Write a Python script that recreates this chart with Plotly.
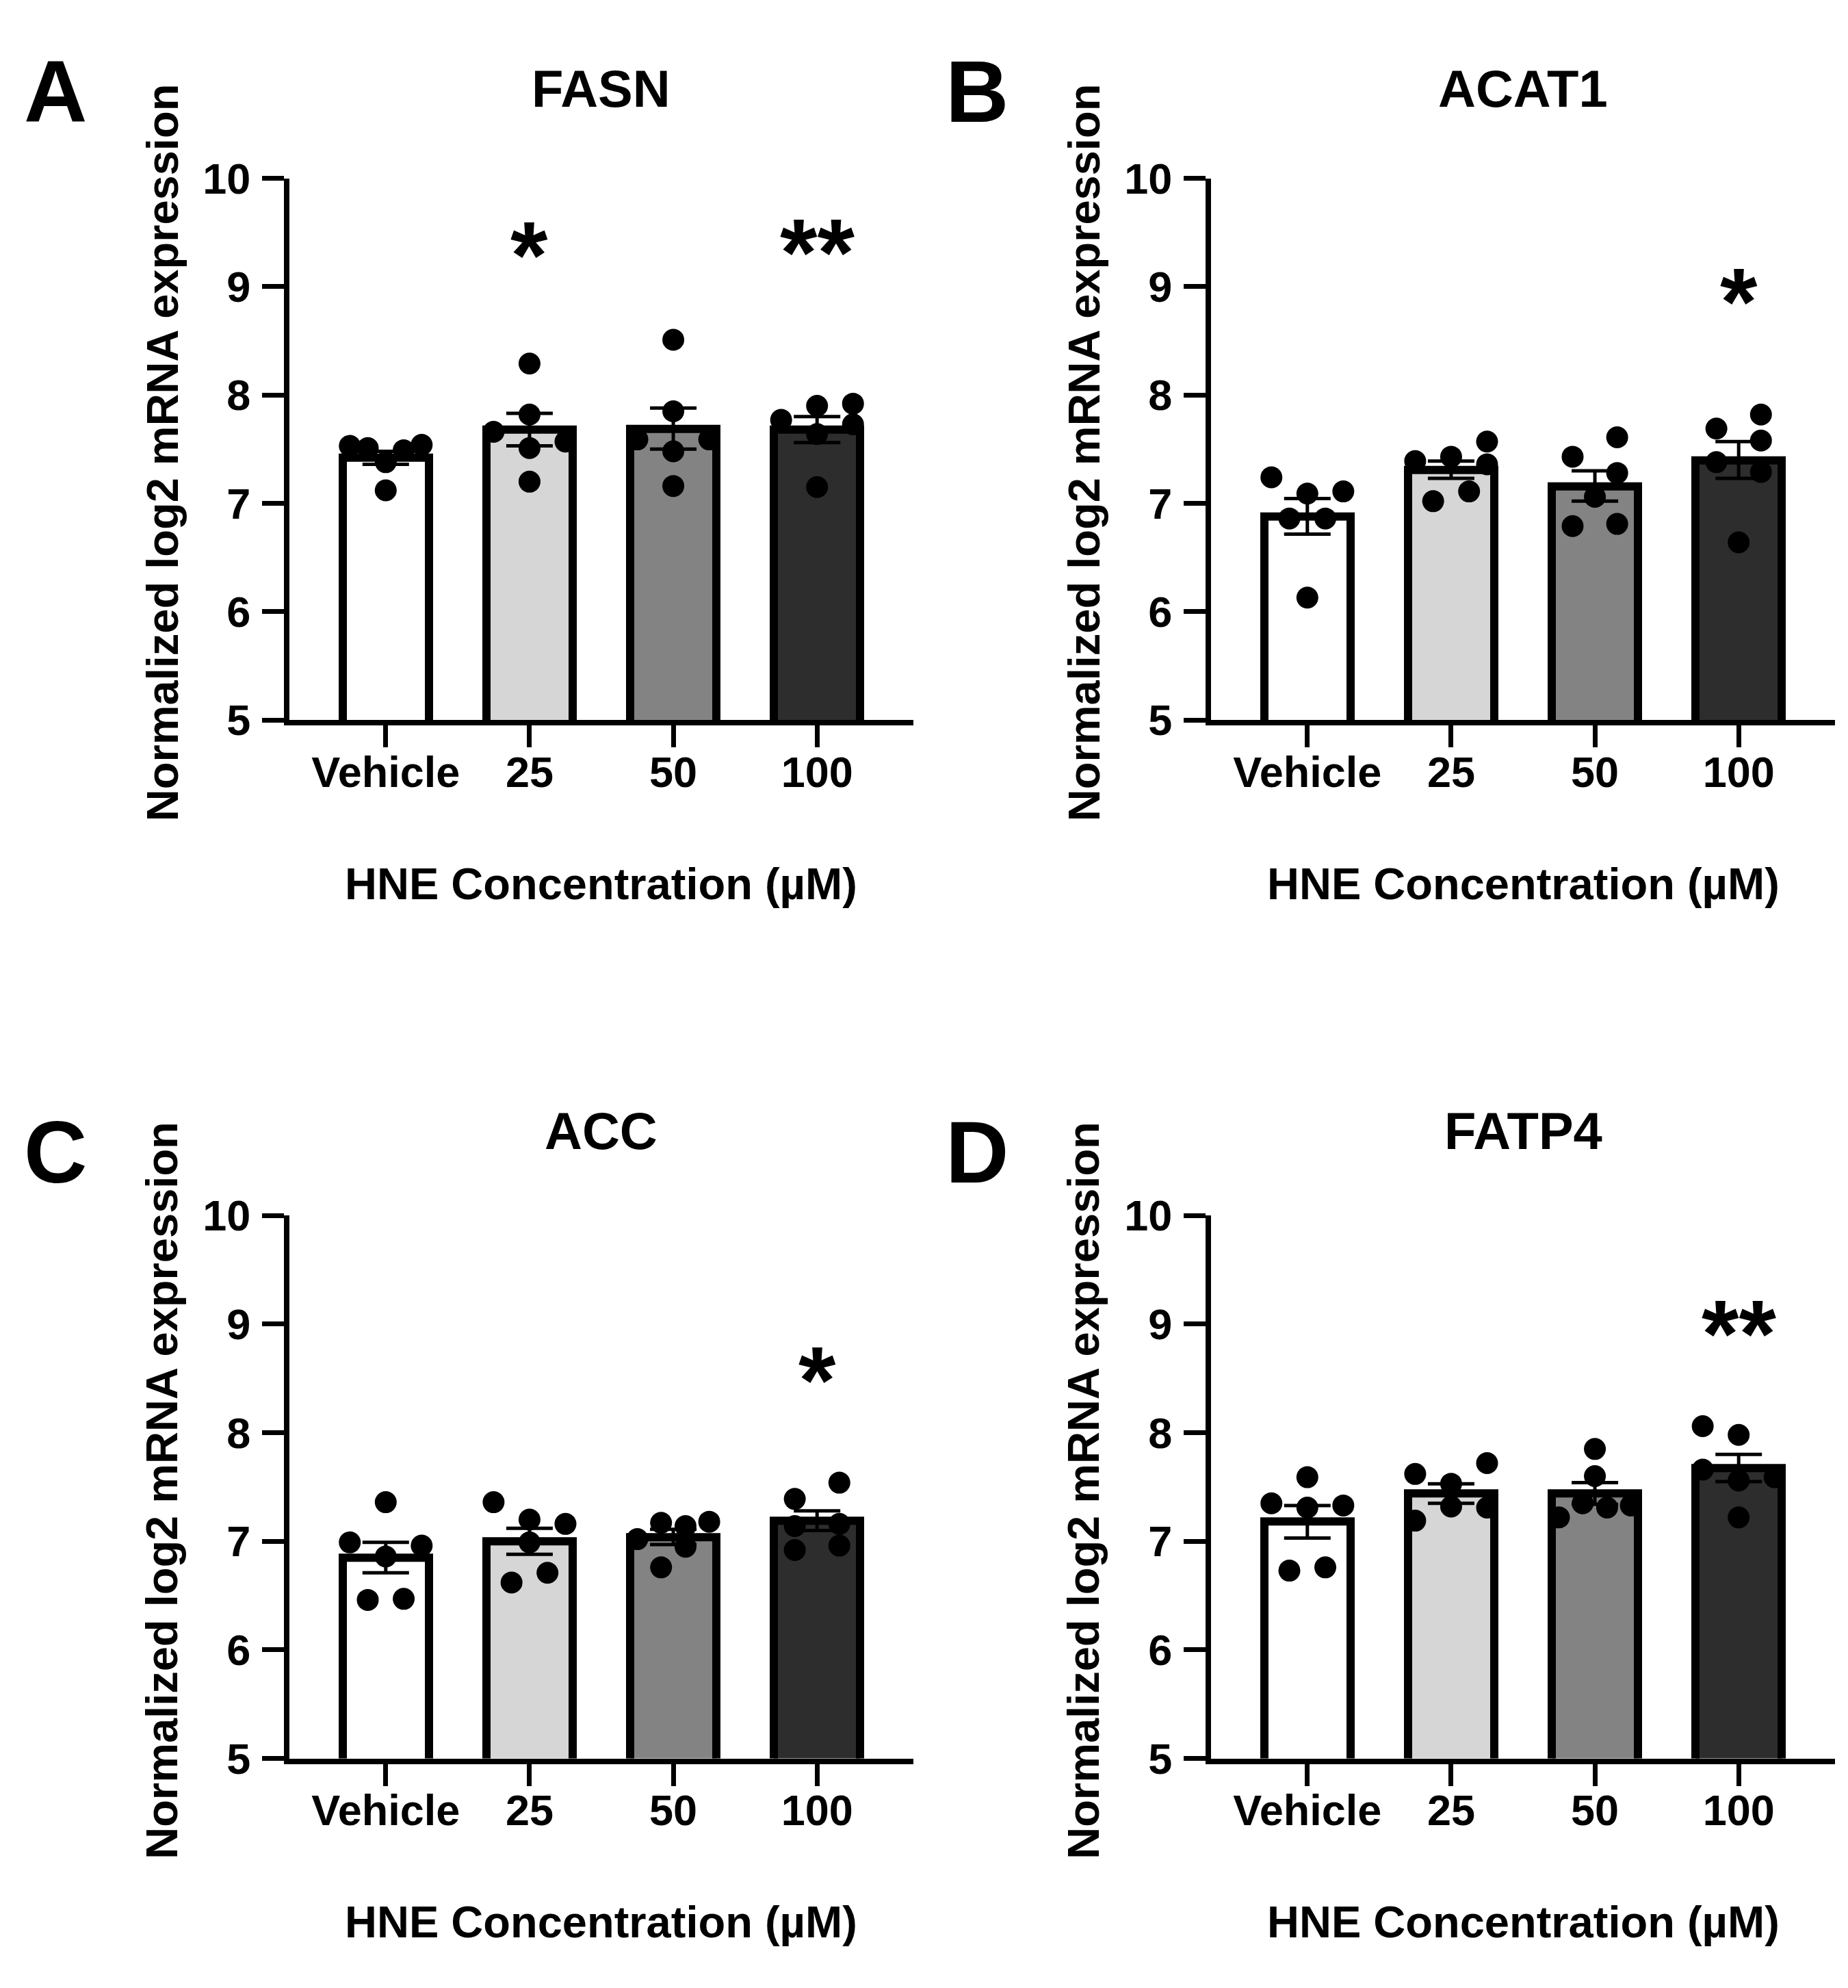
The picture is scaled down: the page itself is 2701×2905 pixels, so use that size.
import plotly.graph_objects as go

# HNE treatment groups
categories = ["Vehicle", "25", "50", "100"]
bar_fills = ["#ffffff", "#d6d6d6", "#838383", "#2d2d2d"]

# panel A - FASN
fasn_mean = [7.42, 7.68, 7.69, 7.68]
fasn_sem = [0.06, 0.15, 0.19, 0.12]
fasn_pts = [[7.53, 7.51, 7.38, 7.49, 7.54, 7.12],
            [8.29, 7.82, 7.66, 7.57, 7.51, 7.20],
            [8.51, 7.85, 7.59, 7.59, 7.48, 7.16],
            [7.77, 7.90, 7.92, 7.73, 7.64, 7.15]]
fasn_jit = [[-0.25, -0.125, 0, 0.125, 0.25, 0],
            [0, 0, -0.25, 0.25, 0, 0],
            [0, 0, -0.25, 0.25, 0, 0],
            [-0.25, 0, 0.25, 0.25, 0, 0]]
fasn_stars = ["", "*", "", "**"]
fasn_star_y = [0, 9.41, 0, 9.43]

# panel B - ACAT1
acat1_mean = [6.88, 7.31, 7.16, 7.40]
acat1_sem = [0.165, 0.08, 0.14, 0.17]
acat1_pts = [[7.24, 7.09, 7.11, 6.86, 6.86, 6.13],
             [7.39, 7.43, 7.57, 7.36, 7.02, 7.11],
             [7.43, 7.61, 7.28, 7.06, 6.79, 6.81],
             [7.69, 7.82, 7.58, 7.38, 7.29, 6.64]]
acat1_jit = [[-0.25, 0, 0.25, -0.125, 0.125, 0],
             [-0.25, 0, 0.25, 0.25, -0.125, 0.125],
             [-0.155, 0.155, 0.155, 0, -0.155, 0.155],
             [-0.155, 0.155, 0.155, -0.155, 0.155, 0]]
acat1_stars = ["", "", "", "*"]
acat1_star_y = [0, 0, 0, 8.98]

# panel C - ACC
acc_mean = [6.85, 7.00, 7.04, 7.19]
acc_sem = [0.14, 0.12, 0.07, 0.09]
acc_pts = [[7.36, 6.99, 6.96, 6.86, 6.46, 6.47],
           [7.36, 7.20, 7.16, 6.99, 6.62, 6.71],
           [7.02, 7.17, 7.14, 7.18, 6.95, 6.76],
           [7.54, 7.39, 7.14, 7.16, 6.92, 6.96]]
acc_jit = [[0, -0.25, 0.25, 0, -0.125, 0.125],
           [-0.25, 0, 0.25, 0, -0.125, 0.125],
           [-0.25, -0.085, 0.085, 0.25, 0.085, -0.085],
           [0.155, -0.155, -0.155, 0.155, -0.155, 0.155]]
acc_stars = ["", "", "", "*"]
acc_star_y = [0, 0, 0, 8.60]

# panel D - FATP4
fatp4_mean = [7.18, 7.44, 7.44, 7.675]
fatp4_sem = [0.15, 0.09, 0.10, 0.125]
fatp4_pts = [[7.59, 7.35, 7.31, 7.33, 6.73, 6.76],
             [7.62, 7.72, 7.53, 7.19, 7.32, 7.31],
             [7.85, 7.60, 7.22, 7.35, 7.31, 7.33],
             [8.06, 7.98, 7.66, 7.59, 7.56, 7.22]]
fatp4_jit = [[0, -0.25, 0, 0.25, -0.125, 0.125],
             [-0.25, 0.25, 0, -0.25, 0, 0.25],
             [0, 0, -0.25, -0.085, 0.085, 0.25],
             [-0.25, 0, -0.25, 0.25, 0, 0]]
fatp4_stars = ["", "", "", "**"]
fatp4_star_y = [0, 0, 0, 9.03]

y_ticks = [5, 6, 7, 8, 9, 10]

W, H = 2701, 2905
FONT = "Liberation Sans, Arial, sans-serif"

panels = [
    ("A", "FASN", fasn_mean, fasn_sem, fasn_pts, fasn_jit, fasn_stars, fasn_star_y),
    ("B", "ACAT1", acat1_mean, acat1_sem, acat1_pts, acat1_jit, acat1_stars, acat1_star_y),
    ("C", "ACC", acc_mean, acc_sem, acc_pts, acc_jit, acc_stars, acc_star_y),
    ("D", "FATP4", fatp4_mean, fatp4_sem, fatp4_pts, fatp4_jit, fatp4_stars, fatp4_star_y),
]

# plot area boxes in pixels (left, right, top, bottom)
boxes = [(415, 1327, 223, 1034), (1762, 2674, 223, 1034),
         (415, 1327, 1776, 2589), (1762, 2674, 1776, 2589)]
# header rows: (letter y, title y) in pixels
heads = [(93, 89), (93, 89), (1681, 1649), (1681, 1649)]


def px(x):
    return x / W


def py(y):
    return 1 - y / H


fig = go.Figure()
annotations = []

for k, (letter, gene, mean, sem, pts, jit, stars, star_y) in enumerate(panels):
    xa = "x" if k == 0 else f"x{k+1}"
    ya = "y" if k == 0 else f"y{k+1}"
    l, r, t, b = boxes[k]
    xs = list(range(len(categories)))

    fig.add_trace(go.Bar(
        x=xs, y=mean, width=0.6, xaxis=xa, yaxis=ya,
        marker=dict(color=bar_fills, line=dict(color="black", width=12)),
        error_y=dict(type="data", array=sem, color="black", thickness=5, width=34),
        showlegend=False, hoverinfo="skip"))

    dx, dy = [], []
    for i, grp in enumerate(pts):
        for v, j in zip(grp, jit[i]):
            dx.append(i + j)
            dy.append(v)
    fig.add_trace(go.Scatter(
        x=dx, y=dy, mode="markers", xaxis=xa, yaxis=ya,
        marker=dict(color="black", size=32, line=dict(width=0)),
        showlegend=False, cliponaxis=False))

    axn = "" if k == 0 else str(k + 1)
    fig.update_layout(**{
        f"xaxis{axn}": dict(
            domain=[px(l), px(r)], anchor=ya, range=[-0.67, 3.67],
            tickvals=xs, ticktext=categories, showgrid=False, zeroline=False,
            showline=True, linecolor="black", linewidth=8,
            ticks="outside", ticklen=32, tickwidth=7, tickcolor="black",
            ticklabelstandoff=-18,
            tickfont=dict(family=FONT, size=63, color="black", weight="bold")),
        f"yaxis{axn}": dict(
            domain=[py(b), py(t)], anchor=xa, range=[5, 10],
            tickvals=y_ticks, showgrid=False, zeroline=False,
            showline=True, linecolor="black", linewidth=8,
            ticks="outside", ticklen=32, tickwidth=7, tickcolor="black",
            ticklabelstandoff=4,
            tickfont=dict(family=FONT, size=63, color="black", weight="bold")),
    })

    cx = px((l + r) / 2)
    ly, ty = heads[k]
    base = dict(xref="paper", yref="paper", showarrow=False, xanchor="center", yanchor="middle")
    # panel letter
    annotations.append(dict(base, text=letter, x=px(l - 342), y=py(ly),
                            font=dict(family=FONT, size=128, color="black", weight="bold")))
    # gene title
    annotations.append(dict(base, text=gene, x=cx, y=py(ty),
                            font=dict(family=FONT, size=76, color="black", weight="bold")))
    # y title
    annotations.append(dict(base, text="Normalized log2 mRNA expression", x=px(l - 186),
                            y=py((t + b) / 2 + 5), textangle=-90,
                            font=dict(family=FONT, size=65, color="black", weight="bold")))
    # x title
    annotations.append(dict(base, text="HNE Concentration (µM)", x=cx, y=py(b + 245),
                            font=dict(family=FONT, size=65, color="black", weight="bold")))
    # significance stars
    for i, s in enumerate(stars):
        if s:
            annotations.append(dict(text=s, x=i, y=star_y[i], xref=xa, yref=ya, showarrow=False,
                                    xanchor="center", yanchor="middle", yshift=-18,
                                    font=dict(family=FONT, size=140, color="black", weight="bold")))

fig.update_layout(
    width=W, height=H, margin=dict(l=0, r=0, t=0, b=0),
    plot_bgcolor="white", paper_bgcolor="white",
    bargap=0, annotations=annotations)

fig.write_html("out.html")
